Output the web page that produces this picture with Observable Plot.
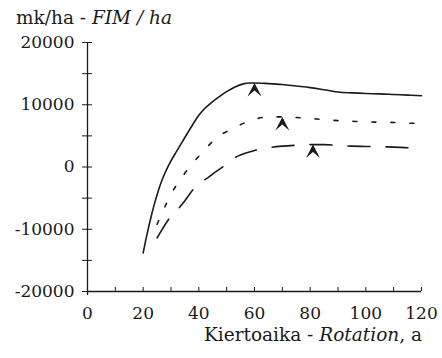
<!DOCTYPE html>
<html>
<head>
<meta charset="utf-8">
<script src="https://cdn.jsdelivr.net/npm/d3@7"></script>
<script src="https://cdn.jsdelivr.net/npm/@observablehq/plot@0.6"></script>
<style>
  html, body { margin: 0; padding: 0; background: #fff; }
  #wrap { position: relative; width: 442px; height: 358px; font-family: "DejaVu Serif", serif; color: #1a1a1a; }
  #wrap svg { position: absolute; left: 0; top: 0; }
  .lbl { position: absolute; font-size: 18.5px; line-height: 1; white-space: nowrap; }
  #title { left: 16px; top: 9px; }
  #xlabel { right: 20px; top: 326px; }
</style>
</head>
<body>
<div id="wrap">
  <div class="lbl" id="title">mk/ha - <i>FIM / ha</i></div>
  <div class="lbl" id="xlabel">Kiertoaika - <i>Rotation</i>, a</div>
</div>
<script>
// Solid curve
const solidX = [20, 21, 22, 23, 24, 25, 26, 27, 28, 29, 30, 32, 34, 36, 38, 40, 42, 44, 46, 48, 50, 53, 56, 58, 60, 65, 70, 75, 80, 85, 90, 95, 100, 105, 110, 115, 120];
const solidY = [-13800, -11600, -9600, -7700, -6000, -4450, -3050, -1850, -800, 150, 1000, 2500, 4000, 5500, 6950, 8300, 9350, 10150, 10850, 11500, 12100, 12850, 13350, 13500, 13500, 13400, 13250, 13000, 12750, 12400, 12050, 11900, 11800, 11750, 11650, 11550, 11450];
// Dotted curve
const dottedX = [25, 28, 31, 34, 37, 41, 46, 52, 58, 64, 70, 75, 80, 85, 90, 95, 100, 105, 110, 115, 120];
const dottedY = [-9200, -6200, -3600, -1600, 200, 2200, 4550, 6150, 7350, 8000, 8050, 7950, 7800, 7600, 7450, 7350, 7250, 7200, 7150, 7050, 7000];
// Dashed curve
const dashedX = [25, 29, 34, 38, 44, 49, 54, 60, 65, 70, 75, 80, 85, 90, 95, 100, 105, 110, 115, 120];
const dashedY = [-11400, -8500, -6000, -3600, -1450, 150, 1750, 2650, 3100, 3350, 3500, 3600, 3600, 3450, 3350, 3300, 3250, 3200, 3100, 3050];
// Optimum markers
const optX = [60, 70, 81];
const optY = [13500, 8050, 3600];
// Ticks
const xTicks = [0, 10, 20, 30, 40, 50, 60, 70, 80, 90, 100, 110, 120];
const xLabelValues = [0, 20, 40, 60, 80, 100, 120];
const yTicks = [-20000, -15000, -10000, -5000, 0, 5000, 10000, 15000, 20000];
const yLabelValues = [-20000, -10000, 0, 10000, 20000];
const yTickLabels = ["-20000", "-10000", "0", "10000", "20000"];

const rows = (xs, ys) => xs.map((x, i) => ({x, y: ys[i]}));
const solid = rows(solidX, solidY);
const dotted = rows(dottedX, dottedY);
const dashed = rows(dashedX, dashedY);
const opts = rows(optX, optY);

const chevron = {
  draw(ctx) {
    ctx.moveTo(0, 0);
    ctx.lineTo(7, 13.5);
    ctx.lineTo(0, 7.5);
    ctx.lineTo(-7, 13.5);
    ctx.closePath();
  }
};

const ink = "#1a1a1a";
const chart = Plot.plot({
  width: 442,
  height: 358,
  marginLeft: 87,
  marginRight: 21,
  marginTop: 42,
  marginBottom: 67,
  x: {domain: [0, 120]},
  y: {domain: [-20000, 20000]},
  style: {fontFamily: "DejaVu Serif, serif", fontSize: "17px", color: ink, background: "white"},
  marks: [
    Plot.ruleX([0], {stroke: ink, strokeWidth: 1.3, insetBottom: -4}),
    Plot.ruleY([-20000], {stroke: ink, strokeWidth: 1.3}),
    Plot.axisY(yTicks, {tickSize: 5, tickFormat: () => "", label: null, stroke: ink}),
    Plot.axisY(yTicks, {tickSize: -5, tickFormat: () => "", label: null, stroke: ink}),
    Plot.axisY(yLabelValues, {tickSize: 0, tickPadding: 13, tickFormat: (d) => yTickLabels[yLabelValues.indexOf(d)], label: null, fill: ink}),
    Plot.axisX(xTicks, {tickSize: -4, tickFormat: () => "", label: null, stroke: ink}),
    Plot.axisX(xLabelValues, {tickSize: 0, tickPadding: 15, tickFormat: (d) => String(d), label: null, fill: ink}),
    Plot.line(solid, {x: "x", y: "y", stroke: ink, strokeWidth: 1.6, curve: "monotone-x"}),
    Plot.line(dotted, {x: "x", y: "y", stroke: ink, strokeWidth: 1.6, strokeDasharray: "4,15", curve: "monotone-x"}),
    Plot.line(dashed, {x: "x", y: "y", stroke: ink, strokeWidth: 1.6, strokeDasharray: "22,16", curve: "monotone-x"}),
    Plot.dot(opts, {x: "x", y: "y", symbol: chevron, fill: ink, stroke: "none"})
  ]
});
document.getElementById("wrap").prepend(chart);
</script>
</body>
</html>
